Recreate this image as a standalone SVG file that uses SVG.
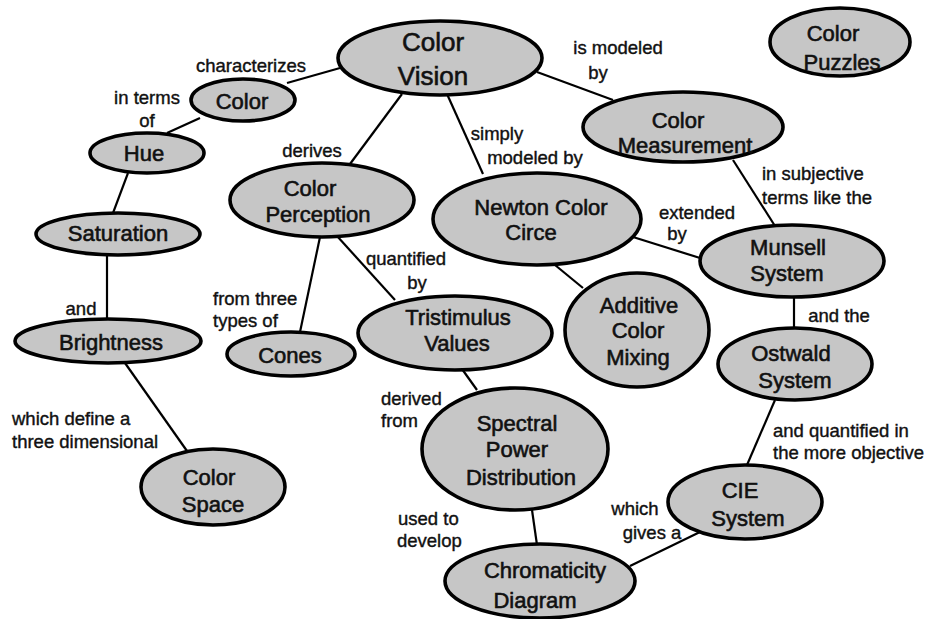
<svg xmlns="http://www.w3.org/2000/svg" width="930" height="619" viewBox="0 0 930 619">
<style>
.n ellipse{fill:#c6c6c6;stroke:#000;stroke-width:3.6}
.n text{font-family:"Liberation Sans",Arial,sans-serif;font-size:22px;text-anchor:middle;dominant-baseline:central;fill:#111;stroke:#111;stroke-width:0.6}
.big text{font-size:26px}
.c line{stroke:#000;stroke-width:2.2}
.l text{font-family:"Liberation Sans",Arial,sans-serif;font-size:18.5px;dominant-baseline:central;fill:#111;stroke:#111;stroke-width:0.4}
.m{text-anchor:middle}
</style>
<rect width="930" height="619" fill="#fff"/>
<g class="c" id="connectors">
<line x1="537" y1="72" x2="613" y2="100"/>
<line x1="340" y1="68" x2="287" y2="83"/>
<line x1="200" y1="118" x2="167" y2="133"/>
<line x1="128" y1="173" x2="113" y2="213"/>
<line x1="107" y1="255" x2="107" y2="319"/>
<line x1="125" y1="363" x2="187" y2="451"/>
<line x1="402" y1="94" x2="350" y2="164"/>
<line x1="447" y1="94" x2="483" y2="174"/>
<line x1="320" y1="237" x2="300" y2="332"/>
<line x1="337" y1="236" x2="395" y2="300"/>
<line x1="555" y1="265" x2="583" y2="288"/>
<line x1="633" y1="237" x2="700" y2="258"/>
<line x1="733" y1="160" x2="775" y2="226"/>
<line x1="794" y1="297" x2="794" y2="328"/>
<line x1="775" y1="400" x2="747" y2="465"/>
<line x1="462" y1="369" x2="477" y2="390"/>
<line x1="532" y1="510" x2="537" y2="545"/>
<line x1="700" y1="532" x2="630" y2="566"/>
</g>
<g class="n big" id="color-vision"><ellipse cx="440" cy="58" rx="102" ry="37"/><text x="433" y="42">Color</text><text x="433" y="76">Vision</text></g>
<g class="n" id="color"><ellipse cx="243" cy="100" rx="52" ry="21"/><text x="242" y="101">Color</text></g>
<g class="n" id="hue"><ellipse cx="147" cy="153" rx="57" ry="20"/><text x="144" y="153">Hue</text></g>
<g class="n" id="saturation"><ellipse cx="118" cy="234" rx="82" ry="21"/><text x="118" y="233">Saturation</text></g>
<g class="n" id="brightness"><ellipse cx="108" cy="341" rx="93" ry="22"/><text x="111" y="342">Brightness</text></g>
<g class="n" id="color-space"><ellipse cx="213" cy="487" rx="72" ry="38"/><text x="209" y="477">Color</text><text x="213" y="504">Space</text></g>
<g class="n" id="color-perception"><ellipse cx="322" cy="200" rx="92" ry="37"/><text x="310" y="188">Color</text><text x="318" y="214">Perception</text></g>
<g class="n" id="cones"><ellipse cx="291" cy="354" rx="64" ry="22"/><text x="290" y="355">Cones</text></g>
<g class="n" id="newton"><ellipse cx="537" cy="219" rx="104" ry="46"/><text x="541" y="207">Newton Color</text><text x="531" y="232">Circe</text></g>
<g class="n" id="tristimulus"><ellipse cx="455" cy="333" rx="97" ry="37"/><text x="458" y="317">Tristimulus</text><text x="457" y="343">Values</text></g>
<g class="n" id="additive"><ellipse cx="637" cy="330" rx="72" ry="57"/><text x="639" y="305">Additive</text><text x="638" y="330">Color</text><text x="638" y="357">Mixing</text></g>
<g class="n" id="spectral"><ellipse cx="515" cy="449" rx="93" ry="61"/><text x="517" y="423">Spectral</text><text x="517" y="449">Power</text><text x="521" y="477">Distribution</text></g>
<g class="n" id="color-measurement"><ellipse cx="683" cy="127" rx="100" ry="35"/><text x="678" y="120">Color</text><text x="685" y="145">Measurement</text></g>
<g class="n" id="munsell"><ellipse cx="792" cy="261" rx="92" ry="36"/><text x="788" y="247">Munsell</text><text x="787" y="273">System</text></g>
<g class="n" id="ostwald"><ellipse cx="795" cy="364" rx="77" ry="36"/><text x="791" y="353">Ostwald</text><text x="795" y="380">System</text></g>
<g class="n" id="cie"><ellipse cx="745" cy="502" rx="77" ry="37"/><text x="740" y="490">CIE</text><text x="748" y="518">System</text></g>
<g class="n" id="chromaticity"><ellipse cx="540" cy="581" rx="95" ry="37"/><text x="545" y="570">Chromaticity</text><text x="535" y="600">Diagram</text></g>
<g class="n" id="color-puzzles"><ellipse cx="840" cy="42" rx="70" ry="34"/><text x="833" y="33">Color</text><text x="842" y="62">Puzzles</text></g>
<g class="l" id="labels">
<text class="m" x="251" y="65">characterizes</text>
<text class="m" x="147" y="97">in terms</text>
<text class="m" x="147" y="120">of</text>
<text class="m" x="312" y="150">derives</text>
<text class="m" x="618" y="47">is modeled</text>
<text class="m" x="598" y="72">by</text>
<text class="m" x="497" y="133">simply</text>
<text class="m" x="535" y="157">modeled by</text>
<text x="762" y="173">in subjective</text>
<text x="762" y="197">terms like the</text>
<text class="m" x="697" y="212">extended</text>
<text class="m" x="677" y="233">by</text>
<text class="m" x="406" y="258">quantified</text>
<text class="m" x="417" y="282">by</text>
<text x="213" y="298">from three</text>
<text x="213" y="320">types of</text>
<text class="m" x="81" y="308">and</text>
<text class="m" x="839" y="315">and the</text>
<text x="12" y="418">which define a</text>
<text x="12" y="441">three dimensional</text>
<text x="381" y="398">derived</text>
<text x="381" y="420">from</text>
<text x="773" y="430">and quantified in</text>
<text x="773" y="452">the more objective</text>
<text class="m" x="635" y="508">which</text>
<text class="m" x="652" y="532">gives a</text>
<text x="398" y="518">used to</text>
<text x="397" y="540">develop</text>
</g>
</svg>
